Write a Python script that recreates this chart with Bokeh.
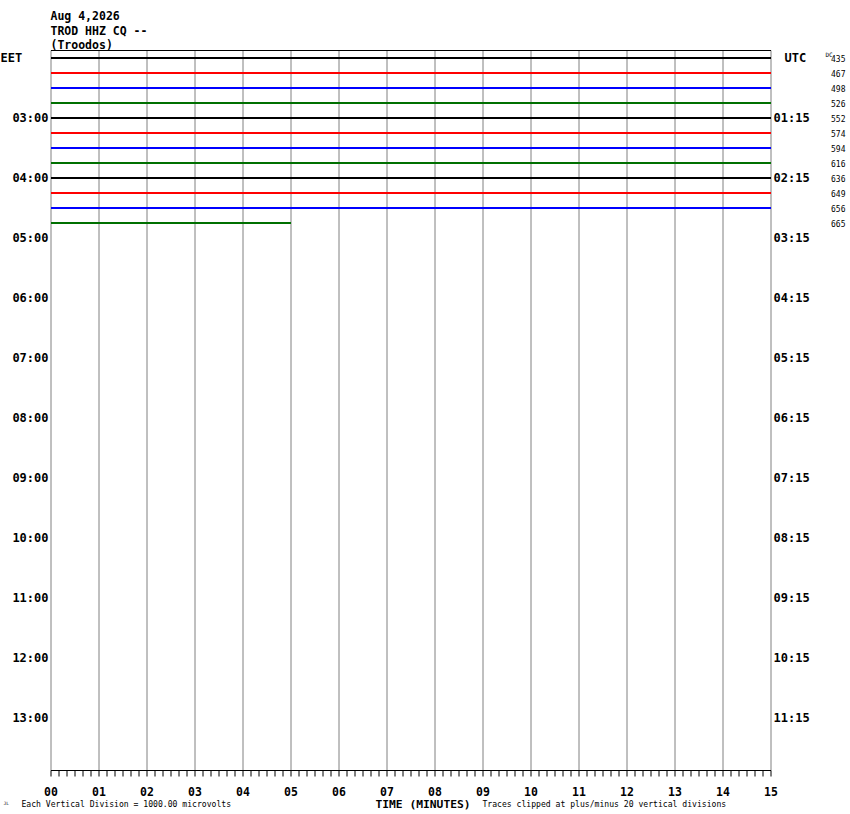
from bokeh.plotting import figure
from bokeh.models import Range1d
from bokeh.core.properties import value
from bokeh.embed import file_html
from bokeh.resources import INLINE

# ---- data ----
title_lines = ["Aug 4,2026", "TROD HHZ CQ --", "(Troodos)"]
n_rows = 48
row_colors = ["black", "red", "blue", "green"]
trace_rows = list(range(12))
trace_end_minutes = [15, 15, 15, 15, 15, 15, 15, 15, 15, 15, 15, 5]
dc_values = [435, 467, 498, 526, 552, 574, 594, 616, 636, 649, 656, 665]
left_label_rows = [0, 4, 8, 12, 16, 20, 24, 28, 32, 36, 40, 44]
left_labels = ["EET", "03:00", "04:00", "05:00", "06:00", "07:00", "08:00",
               "09:00", "10:00", "11:00", "12:00", "13:00"]
right_labels = ["UTC", "01:15", "02:15", "03:15", "04:15", "05:15", "06:15",
                "07:15", "08:15", "09:15", "10:15", "11:15"]
minute_ticks = list(range(16))
minute_labels = ["%02d" % m for m in minute_ticks]
minor_ticks = [k / 6 for k in range(91)]

MONO = "DejaVu Sans Mono"
cmap = {"black": "#000000", "red": "#ff0000", "blue": "#0000ff", "green": "#007000"}

W, H = 850, 814
PX_PER_MIN = 48.0
PX_PER_ROW = 15.0
X0, Y0 = 50.5, 57.5  # pixel of minute 0 / row 0

def dx(px):  # canvas px -> data x (minutes)
    return (px - X0) / PX_PER_MIN

def dy(py):  # canvas px -> data y (negative row)
    return -(py - Y0) / PX_PER_ROW

p = figure(width=W, height=H,
           x_range=Range1d(dx(0), dx(W)), y_range=Range1d(dy(H), dy(0)),
           x_axis_location=None, y_axis_location=None,
           output_backend="svg", toolbar_location=None,
           min_border=0)
p.outline_line_color = None
for g in list(p.grid):
    g.visible = False
p.background_fill_color = "white"
p.border_fill_color = "white"

top = 0.5
bottom = -(n_rows - 0.5)
tick_len = 6 / PX_PER_ROW

# vertical minute lines
p.segment(x0=minute_ticks, x1=minute_ticks, y0=[top] * 16, y1=[bottom] * 16,
          line_color="#808080", line_width=1)
# top border and time axis line
p.segment(x0=[0, 0], x1=[15, 15], y0=[top, bottom], y1=[top, bottom],
          line_color="black", line_width=1)
# ticks every 10 seconds
p.segment(x0=minor_ticks, x1=minor_ticks, y0=[bottom] * len(minor_ticks),
          y1=[bottom - tick_len] * len(minor_ticks), line_color="black", line_width=1)

# traces
for r, end in zip(trace_rows, trace_end_minutes):
    c = cmap[row_colors[r % 4]]
    p.line(x=[0, end], y=[-r, -r], line_color=c, line_width=1.8)

def txt(x, y, text, size, bold=False, align="left", baseline="alphabetic"):
    p.text(x=x, y=y, text=text, text_font=value(MONO), text_font_size=value(size),
           text_font_style="bold" if bold else "normal",
           text_align=align, text_baseline=baseline, text_color="black")

# title
txt([dx(50)] * 3, [dy(15), dy(30), dy(44.5)], title_lines, "11.5px", bold=True)

# left / right hour labels
lrows = [-r for r in left_label_rows]
txt([dx(0)], [lrows[0]], left_labels[:1], "12px", bold=True, baseline="middle")
txt([dx(48)] * 11, lrows[1:], left_labels[1:], "12px", bold=True, align="right", baseline="middle")
txt([dx(784)], [lrows[0]], right_labels[:1], "12px", bold=True, baseline="middle")
txt([dx(773)] * 11, lrows[1:], right_labels[1:], "12px", bold=True, baseline="middle")

# DC values
txt([dx(830.5)] * len(dc_values), [-r for r in trace_rows], [str(v) for v in dc_values],
    "8px", baseline="middle")
txt([dx(825)], [dy(54)], ["DC"], "6px", baseline="middle")

# minute labels
txt(minute_ticks, [dy(790.5)] * 16, minute_labels, "11.5px", bold=True, align="center")

txt([dx(422.5)], [dy(803.5)], ["TIME (MINUTES)"], "11.3px", bold=True, align="center")
txt([dx(21)], [dy(803)], ["Each Vertical Division = 1000.00 microvolts"], "8.1px")
txt([dx(482)], [dy(803)], ["Traces clipped at plus/minus 20 vertical divisions"], "8.1px")
txt([dx(3)], [dy(803)], ["JL"], "4.5px")

open("out.html", "w").write(file_html(p, INLINE))
